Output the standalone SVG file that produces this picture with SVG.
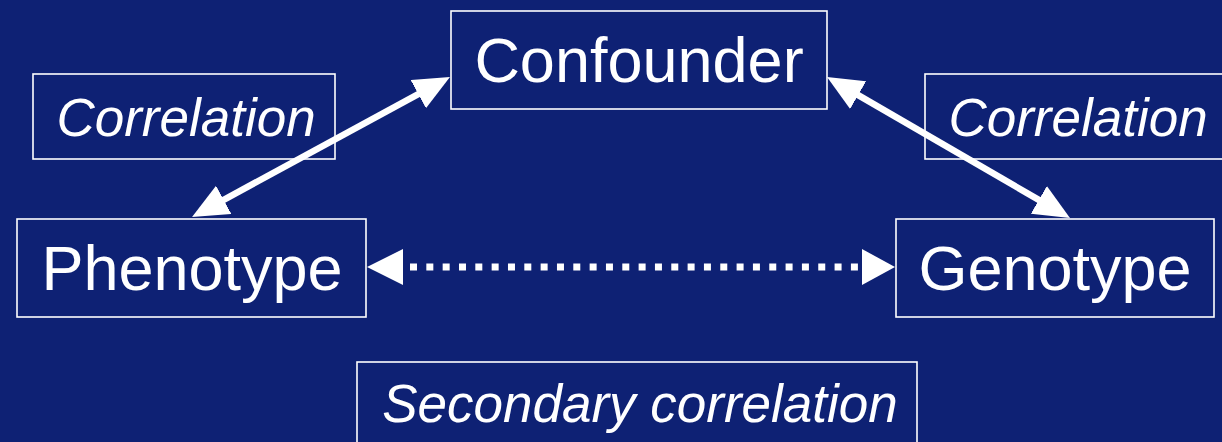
<svg xmlns="http://www.w3.org/2000/svg" width="1222" height="442" viewBox="0 0 1222 442">
  <style>
    .box { fill: #0e2174; stroke: #ffffff; stroke-width: 1.6; }
    .big { font-family: "Liberation Sans", Arial, sans-serif; font-size: 63px; fill: #ffffff; text-anchor: middle; }
    .lbl { font-family: "Liberation Sans", Arial, sans-serif; font-size: 53px; font-style: italic; fill: #ffffff; text-anchor: middle; }
    .conn { stroke: #ffffff; stroke-width: 6.5; fill: none; }
    .dots { stroke: #ffffff; stroke-width: 7; fill: none; stroke-dasharray: 7 9.33; }
    .head { fill: #ffffff; }
  </style>
  <defs>
    <marker id="arrow" markerUnits="userSpaceOnUse" viewBox="0 0 36 32" markerWidth="36" markerHeight="32" refX="1" refY="16" orient="auto-start-reverse">
      <path d="M0,0 L36,16 L0,32 z" fill="#ffffff"/>
    </marker>
  </defs>
  <rect x="0" y="0" width="1222" height="442" fill="#0e2174"/>

  <g id="correlation-left">
    <rect class="box" x="33" y="74" width="302" height="85"/>
    <text class="lbl" x="186" y="136">Correlation</text>
  </g>
  <g id="correlation-right">
    <rect class="box" x="925" y="74" width="302" height="85"/>
    <text class="lbl" x="1078" y="136">Correlation</text>
  </g>

  <g id="connectors">
    <path class="conn" d="M222.8,200.3 L419.2,93.7" marker-start="url(#arrow)" marker-end="url(#arrow)"/>
    <path class="conn" d="M857.3,94.6 L1039.7,200.4" marker-start="url(#arrow)" marker-end="url(#arrow)"/>
    <path class="dots" d="M410,267 L858,267"/>
    <polygon class="head" points="367,267 403,249 403,285"/>
    <polygon class="head" points="895,267 862,249 862,285"/>
  </g>

  <g id="confounder">
    <rect class="box" x="451" y="11" width="376" height="98"/>
    <text class="big" x="639" y="82">Confounder</text>
  </g>
  <g id="phenotype">
    <rect class="box" x="17" y="219" width="349" height="98"/>
    <text class="big" x="192" y="290">Phenotype</text>
  </g>
  <g id="genotype">
    <rect class="box" x="896" y="219" width="318" height="98"/>
    <text class="big" x="1055" y="290">Genotype</text>
  </g>
  <g id="secondary-correlation">
    <rect class="box" x="357" y="362" width="560" height="86"/>
    <text class="lbl" x="640" y="422">Secondary correlation</text>
  </g>
</svg>
